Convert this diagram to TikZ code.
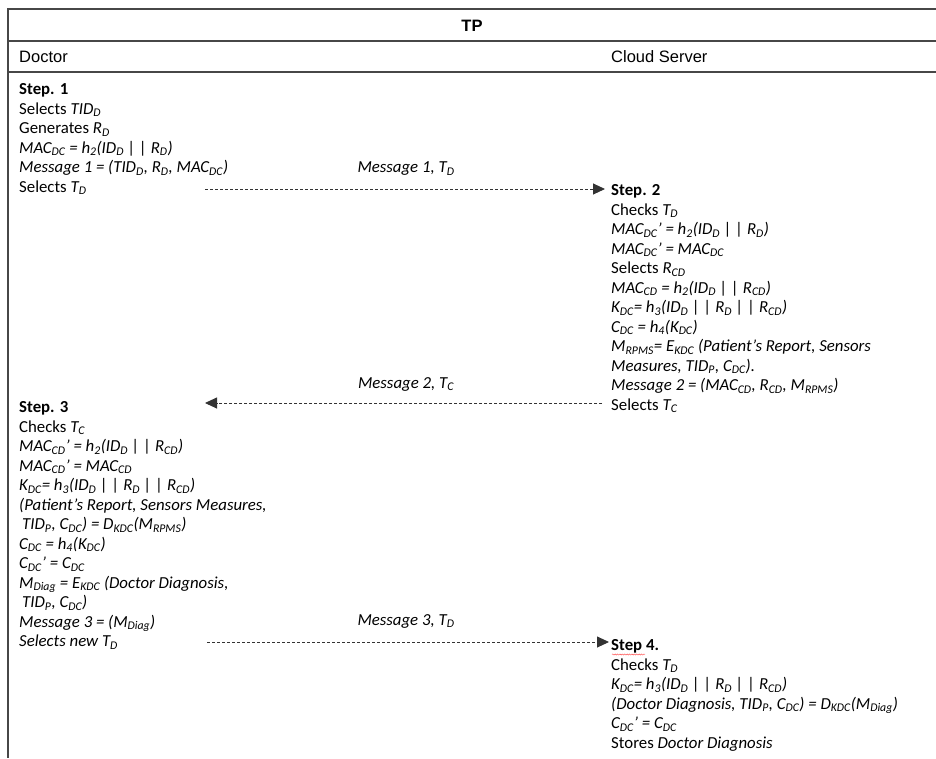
\documentclass[tikz,border=0pt]{standalone}
\usepackage{fontspec}
\setmainfont{Carlito}
\newfontfamily\hdrfont{Liberation Sans}
\usetikzlibrary{arrows.meta,decorations.pathmorphing}
\newcommand\sbs[1]{\textsubscript{#1}}
\begin{document}
\begin{tikzpicture}[x=1pt,y=-1pt,
  tline/.style={line width=1.6pt, draw=black!72},
  msg/.style={dash pattern=on 3pt off 2pt, line width=0.9pt, draw=black!80,
     -{Triangle[length=12pt,width=11pt]}},
  blk/.style={anchor=base west, inner sep=0pt, font=\fontsize{16.8}{19.5}\selectfont},
  lbl/.style={anchor=base, inner sep=0pt, font=\fontsize{16.8}{19.5}\selectfont\itshape},
  hd/.style={anchor=base west, inner sep=0pt, font=\hdrfont\fontsize{16.5}{19}\selectfont},
  squig/.style={draw=red!70, line width=0.45pt,
     decorate, decoration={snake, segment length=2.4pt, amplitude=0.55pt}}]
\useasboundingbox (0,0) rectangle (936,758);
% table lines
\coordinate (tr) at (936,9);
\coordinate (tl) at (8,9);
\coordinate (bl) at (8,758);
\coordinate (m1l) at (8,41);
\coordinate (m1r) at (936,41);
\coordinate (m2l) at (8,72);
\coordinate (m2r) at (936,72);
\draw[tline] (tr) -- (tl) -- (bl);
\draw[tline] (m1l) -- (m1r);
\draw[tline] (m2l) -- (m2r);
% header
\node[hd, anchor=base, font=\hdrfont\bfseries\fontsize{16.5}{19}\selectfont] (tp) at (472,31) {TP};
\node[hd] (doc) at (19,62) {Doctor};
\node[hd] (cs) at (611,62) {Cloud Server};
% blocks
\node[blk] (b1) at (19,94.5) {\parbox[t]{330pt}{\raggedright
\textbf{Step. 1}\\
Selects \textit{TID\sbs{D}}\\
Generates \textit{R\sbs{D}}\\
\textit{MAC\sbs{DC} = h\sbs{2}(ID\sbs{D} | | R\sbs{D})}\\
\textit{Message 1 = (TID\sbs{D}, R\sbs{D}, MAC\sbs{DC})}\\
Selects \textit{T\sbs{D}}}};
\node[blk] (b2) at (611,195.5) {\parbox[t]{330pt}{\raggedright
\textbf{Step. 2}\\
Checks \textit{T\sbs{D}}\\
\textit{MAC\sbs{DC}’ = h\sbs{2}(ID\sbs{D} | | R\sbs{D})}\\
\textit{MAC\sbs{DC}’ = MAC\sbs{DC}}\\
Selects \textit{R\sbs{CD}}\\
\textit{MAC\sbs{CD} = h\sbs{2}(ID\sbs{D} | | R\sbs{CD})}\\
\textit{K\sbs{DC}= h\sbs{3}(ID\sbs{D} | | R\sbs{D} | | R\sbs{CD})}\\
\textit{C\sbs{DC} = h\sbs{4}(K\sbs{DC})}\\
\textit{M\sbs{RPMS}= E\sbs{KDC} (Patient’s Report, Sensors}\\
\textit{Measures, TID\sbs{P}, C\sbs{DC}).}\\
\textit{Message 2 = (MAC\sbs{CD}, R\sbs{CD}, M\sbs{RPMS})}\\
Selects \textit{T\sbs{C}}}};
\node[blk] (b3) at (19,412.5) {\parbox[t]{330pt}{\raggedright
\textbf{Step. 3}\\
Checks \textit{T\sbs{C}}\\
\textit{MAC\sbs{CD}’ = h\sbs{2}(ID\sbs{D} | | R\sbs{CD})}\\
\textit{MAC\sbs{CD}’ = MAC\sbs{CD}}\\
\textit{K\sbs{DC}= h\sbs{3}(ID\sbs{D} | | R\sbs{D} | | R\sbs{CD})}\\
\textit{(Patient’s Report, Sensors Measures,}\\
\hspace*{3pt}\textit{TID\sbs{P}, C\sbs{DC}) = D\sbs{KDC}(M\sbs{RPMS})}\\
\textit{C\sbs{DC} = h\sbs{4}(K\sbs{DC})}\\
\textit{C\sbs{DC}’ = C\sbs{DC}}\\
\textit{M\sbs{Diag} = E\sbs{KDC} (Doctor Diagnosis,}\\
\hspace*{3pt}\textit{TID\sbs{P}, C\sbs{DC})}\\
\textit{Message 3 = (M\sbs{Diag})}\\
\textit{Selects new T\sbs{D}}}};
\node[blk] (b4) at (611,650.5) {\parbox[t]{330pt}{\raggedright
\textbf{Step 4.}\\
Checks \textit{T\sbs{D}}\\
\textit{K\sbs{DC}= h\sbs{3}(ID\sbs{D} | | R\sbs{D} | | R\sbs{CD})}\\
\textit{(Doctor Diagnosis, TID\sbs{P}, C\sbs{DC}) = D\sbs{KDC}(M\sbs{Diag})}\\
\textit{C\sbs{DC}’ = C\sbs{DC}}\\
Stores \textit{Doctor Diagnosis}}};
% spell-check squiggle
\coordinate (sq1) at (612,654.5);
\coordinate (sq2) at (645,654.5);
\draw[squig] (sq1) -- (sq2);
% messages
\coordinate (a1s) at (205,189);
\coordinate (a1e) at (605,189);
\draw[msg] (a1s) -- (a1e);
\node[lbl] (l1) at (406,172.5) {Message 1, T\sbs{D}};
\coordinate (a2s) at (602,403);
\coordinate (a2e) at (205,403);
\draw[msg] (a2s) -- (a2e);
\node[lbl] (l2) at (406,388) {Message 2, T\sbs{C}};
\coordinate (a3s) at (207,642);
\coordinate (a3e) at (609,642);
\draw[msg] (a3s) -- (a3e);
\node[lbl] (l3) at (406,625) {Message 3, T\sbs{D}};
\end{tikzpicture}
\end{document}
